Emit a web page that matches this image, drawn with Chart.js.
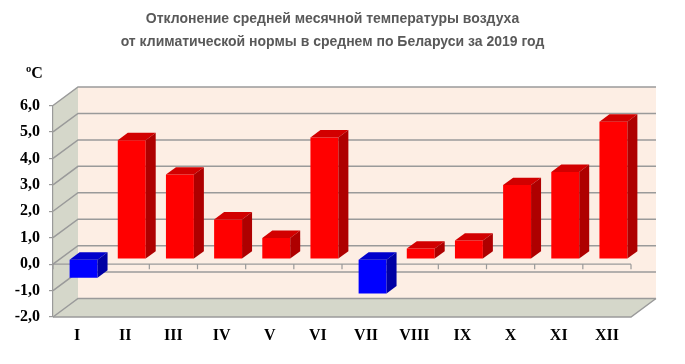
<!DOCTYPE html>
<html>
<head>
<meta charset="utf-8">
<script src="https://cdn.jsdelivr.net/npm/chart.js@4/dist/chart.umd.min.js"></script>
<style>
  html,body{margin:0;padding:0;background:#fff;}
  #wrap{position:relative;width:685px;height:364px;overflow:hidden;}
  #title{position:absolute;left:0;top:7px;width:665px;text-align:center;font:bold 14px 'Liberation Sans',Arial,sans-serif;line-height:23px;color:#595959;}
  #unit{position:absolute;left:26px;top:64px;font:bold 16px 'Liberation Serif','Times New Roman',serif;color:#000;}
  canvas{position:absolute;left:0;top:0;}
</style>
</head>
<body>
<div id="wrap">
  <canvas id="c" width="685" height="364"></canvas>
  <div id="title">Отклонение средней месячной температуры воздуха<br>от климатической нормы в среднем по Беларуси за 2019 год</div>
  <div id="unit">ºC</div>
</div>
<script>
// ---- data ----
const months = ['I','II','III','IV','V','VI','VII','VIII','IX','X','XI','XII'];
const anomalies = [-0.7, 4.5, 3.2, 1.5, 0.8, 4.6, -1.3, 0.4, 0.7, 2.8, 3.3, 5.2];
const yMin = -2, yMax = 6, yStep = 1;

// ---- style ----
const WALL_DX = 25, WALL_DY = 18.5;     // back wall offset
const BAR_DX = 6.5, BAR_DY = 5;         // bar front plane offset
const DEPTH_DX = 10, DEPTH_DY = 7.4;    // bar depth
const PEACH = '#fdeee4', GRAY = '#d5d7ca', GRID = '#9a9a9a';

function poly(ctx, pts, fill, stroke){
  ctx.beginPath();
  ctx.moveTo(pts[0][0], pts[0][1]);
  for (let i = 1; i < pts.length; i++) ctx.lineTo(pts[i][0], pts[i][1]);
  ctx.closePath();
  if (fill){ ctx.fillStyle = fill; ctx.fill(); }
  if (stroke){ ctx.strokeStyle = stroke; ctx.stroke(); }
}

const wallPlugin = {
  id: 'walls',
  beforeDraw(chart){
    const {ctx, chartArea: a, scales: {y}} = chart;
    const L = a.left, R = a.right, T = a.top, B = a.bottom;
    ctx.save();
    ctx.fillStyle = PEACH;
    ctx.fillRect(L + WALL_DX, T - WALL_DY, R - L, B - T);
    poly(ctx, [[L,T],[L+WALL_DX,T-WALL_DY],[L+WALL_DX,B-WALL_DY],[L,B]], GRAY);
    poly(ctx, [[L,B],[R,B],[R+WALL_DX,B-WALL_DY],[L+WALL_DX,B-WALL_DY]], GRAY);
    ctx.strokeStyle = GRID;
    ctx.lineWidth = 1.5;
    y.ticks.forEach(t => {
      const yy = y.getPixelForValue(t.value);
      ctx.beginPath();
      ctx.moveTo(L, yy);
      ctx.lineTo(L + WALL_DX, yy - WALL_DY);
      ctx.lineTo(R + WALL_DX, yy - WALL_DY);
      ctx.stroke();
    });
    ctx.beginPath();
    ctx.moveTo(L, B);
    ctx.lineTo(R, B);
    ctx.lineTo(R + WALL_DX, B - WALL_DY);
    ctx.stroke();
    ctx.restore();
  },
  beforeDatasetsDraw(chart){
    const {ctx, chartArea: a, scales: {x, y}} = chart;
    const y0 = y.getPixelForValue(0);
    ctx.save();
    ctx.strokeStyle = GRID;
    ctx.lineWidth = 1.2;
    ctx.beginPath();
    ctx.moveTo(a.left, y0);
    ctx.lineTo(a.right, y0);
    const n = months.length;
    const step = (x.getPixelForValue(n - 1) - x.getPixelForValue(0)) / (n - 1);
    for (let i = 0; i <= n; i++){
      const xx = x.getPixelForValue(0) - step / 2 + i * step;
      ctx.moveTo(xx, y0);
      ctx.lineTo(xx, y0 + 5);
    }
    ctx.stroke();
    ctx.restore();
    ctx.save();
    ctx.translate(BAR_DX, -BAR_DY);
  },
  afterDatasetsDraw(chart){
    const ctx = chart.ctx;
    const meta = chart.getDatasetMeta(0);
    meta.data.forEach((bar, i) => {
      const p = bar.getProps(['x','y','base','width'], true);
      const x0 = p.x - p.width / 2, x1 = p.x + p.width / 2;
      const top = Math.min(p.y, p.base), bot = Math.max(p.y, p.base);
      const neg = anomalies[i] < 0;
      const topCol = neg ? '#0000cc' : '#d20000';
      const sideCol = neg ? '#0000a4' : '#ae0000';
      poly(ctx, [[x0,top],[x1,top],[x1+DEPTH_DX,top-DEPTH_DY],[x0+DEPTH_DX,top-DEPTH_DY]], topCol);
      poly(ctx, [[x1,top],[x1+DEPTH_DX,top-DEPTH_DY],[x1+DEPTH_DX,bot-DEPTH_DY],[x1,bot]], sideCol);
    });
    ctx.restore();
  }
};

const serif = {family: "'Liberation Serif','Times New Roman',serif", size: 16, weight: 'bold'};

new Chart(document.getElementById('c'), {
  type: 'bar',
  data: {
    labels: months,
    datasets: [{
      data: anomalies,
      backgroundColor: anomalies.map(v => v < 0 ? '#0000ff' : '#ff0000'),
      borderWidth: 0,
      barPercentage: 0.58,
      categoryPercentage: 1
    }]
  },
  options: {
    responsive: false,
    animation: false,
    devicePixelRatio: 1,
    layout: {padding: {left: 0, right: 0, top: 105.5, bottom: 0}},
    plugins: {legend: {display: false}, title: {display: false}, tooltip: {enabled: false}},
    scales: {
      x: {
        grid: {display: false, drawTicks: false},
        border: {display: false},
        ticks: {font: serif, color: '#000', padding: 9},
        afterFit: s => { s.height = 47; }
      },
      y: {
        min: yMin, max: yMax,
        ticks: {stepSize: yStep, padding: 9, font: serif, color: '#000',
          callback: v => v.toFixed(1).replace('.', ',')},
        grid: {drawOnChartArea: false, drawTicks: true, tickLength: 4, color: GRID, lineWidth: 1.2},
        border: {color: GRID, width: 1.2},
        afterFit: s => { s.width = 53; }
      },
      yR: {
        position: 'right',
        grid: {display: false},
        border: {display: false},
        ticks: {display: false},
        afterFit: s => { s.width = 54; }
      }
    }
  },
  plugins: [wallPlugin]
});
</script>
</body>
</html>
